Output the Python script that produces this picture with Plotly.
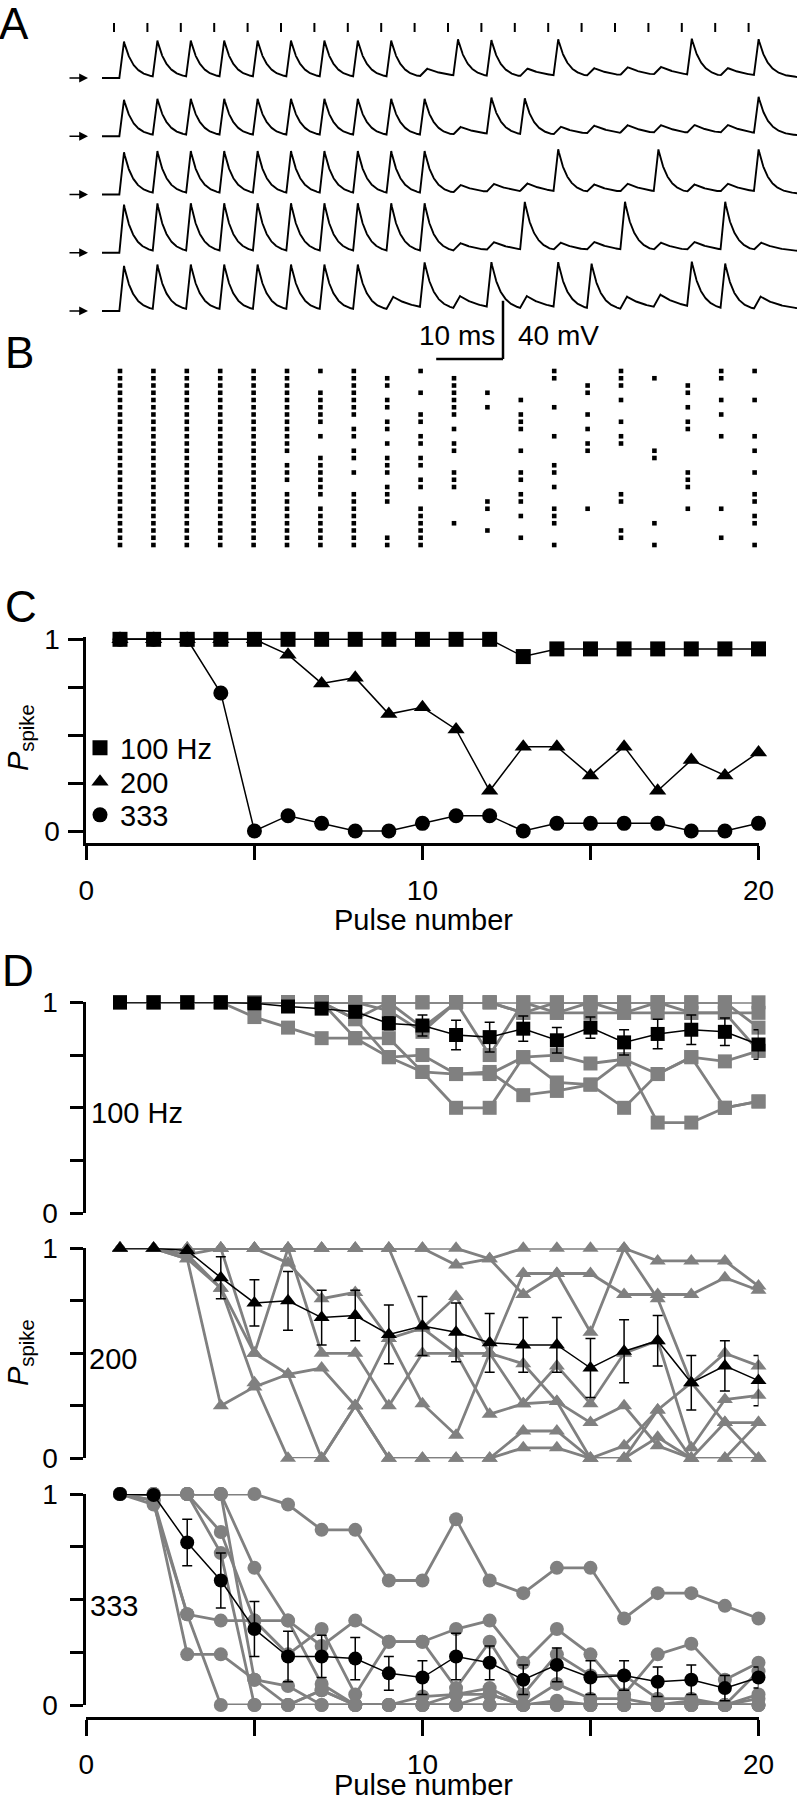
import numpy as np
import plotly.graph_objects as go

W, H = 797, 1800
def px(x): return x / W
def py(y): return 1 - y / H

FONT = "Liberation Sans, Arial, Helvetica, sans-serif"
GRAY = "rgb(128,128,128)"
FS = 29      # labels
FS_TICK = 28 # tick labels

# ---------------- DATA ----------------
pulses = list(range(1, 21))
PULSE_MS = 5.0  # 200 Hz example

# Panel A: 5 example sweeps, 1 = spike, 0 = failure (subthreshold EPSP)
trace_spikes = [
    [1,1,1,1,1,1,1,1,1,0,1,1,0,1,0,0,0,1,0,1],
    [1,1,1,1,1,1,1,1,1,1,0,1,1,0,0,0,0,0,0,1],
    [1,1,1,1,1,1,1,1,1,1,0,0,0,1,0,0,1,0,0,1],
    [1,1,1,1,1,1,1,1,1,1,0,0,1,0,0,1,0,0,1,0],
    [1,1,1,1,1,1,1,1,0,1,0,1,0,1,1,0,0,1,1,0],
]
spike_amp_mv = [25, 25, 29, 33, 31]
epsp_amp_mv = [6, 6, 6, 6, 9]

# Panel B: raster, trials (rows 0..24) with a spike for each pulse
raster_rows = [
    list(range(25)), list(range(25)), list(range(25)), list(range(25)), list(range(25)),
    [r for r in range(25) if r not in (12, 16)],
    [0,3,4,5,6,7,9,12,13,14,15,16,17,19,20,21,22,23,24],
    [0,1,2,3,4,5,6,8,9,11,12,14,17,18,19,20,21,22,23,24],
    [1,2,4,5,7,8,10,12,13,14,16,17,18,23,24],
    [0,3,6,7,9,10,12,13,15,16,19,20,21,22,23,24],
    [1,2,3,4,5,6,8,10,11,14,15,16,21],
    [3,5,18,19,22],
    [4,6,7,8,11,14,15,17,18,20,23],
    [0,1,5,9,13,14,16,19,20,21,24],
    [2,3,6,8,10,11,19],
    [0,1,2,4,7,9,10,17,18,22,23],
    [1,11,12,21,24],
    [2,3,5,7,8,14,15,16,19],
    [0,1,4,6,9,19,23],
    [0,4,9,11,14,17,18,20,21,24],
]

# Panel C: example cell
c_100 = [1,1,1,1,1,1,1,1,1,1,1,1,0.91,0.95,0.95,0.95,0.95,0.95,0.95,0.95]
c_200 = [1,1,1,1,1,0.92,0.77,0.80,0.61,0.645,0.53,0.21,0.44,0.44,0.29,0.44,0.21,0.37,0.29,0.41]
c_333 = [1,1,1,0.72,0,0.08,0.04,0,0,0.04,0.08,0.08,0,0.04,0.04,0.04,0.04,0,0,0.04]

# Panel D: individual cells (gray) and mean +/- SEM (black)
d100_cells = [
    [1]*20,
    [1,1,1,1,1,1,1,1,1,1,1,1,0.95,0.95,0.95,0.95,0.95,0.95,0.95,0.95],
    [1,1,1,1,1,1,1,1,0.96,0.86,1,1,0.95,1,1,1,1,1,1,0.88],
    [1,1,1,1,1,1,1,0.92,1,0.88,1,0.75,1,0.95,1,0.95,1,0.95,0.95,0.77],
    [1,1,1,1,0.93,0.88,0.83,0.83,0.74,0.75,0.66,0.66,0.74,0.75,0.71,0.73,0.66,0.74,0.72,0.77],
    [1,1,1,1,1,1,1,0.92,0.74,0.67,0.5,0.5,0.74,0.62,0.61,0.5,0.66,0.74,0.5,0.53],
    [1,1,1,1,1,1,1,0.83,0.83,0.67,0.66,0.67,0.56,0.58,0.61,0.73,0.43,0.43,0.5,0.53],
]
d100_mean = [1,1,1,1,0.995,0.98,0.97,0.955,0.9,0.89,0.845,0.835,0.875,0.82,0.88,0.81,0.85,0.87,0.86,0.80]
d100_sem = [0,0,0,0,0,0.01,0.01,0.02,0.03,0.05,0.07,0.07,0.06,0.06,0.05,0.06,0.07,0.07,0.065,0.07]

d200_cells = [
    [1,1,1,1,1,1,1,1,1,1,1,0.95,1,1,1,1,0.94,0.94,0.94,0.82],
    [1,1,1,1,1,1,1,1,1,1,0.92,0.95,0.78,0.88,0.88,0.78,0.78,0.78,0.86,0.8],
    [1,1,1,1,1,0.93,0.76,0.79,0.57,0.62,0.77,0.5,0.88,0.88,0.6,1,0.76,0.36,0.5,0.44],
    [1,1,0.97,0.81,0.5,1,0.5,0.5,0.25,0.5,0.5,0.21,0.26,0.44,0.26,0.5,0.56,0.05,0.28,0.3],
    [1,1,0.95,0.25,0.34,0.4,0.43,0.25,0.57,0.26,0.11,0.5,0.45,0.27,0,0,0.23,0.36,0.17,0.17],
    [1,1,0.95,0.81,0.36,0,0,0.25,0,0,0,0,0.13,0.13,0,0,0.1,0,0,0],
    [1,1,0.97,1,0.5,0.4,0,0.25,0,0,0,0,0.05,0.05,0,0.06,0.23,0,0.17,0],
    [1,1,1,1,1,1,1,1,1,0.62,0.5,0.5,0.26,0.27,0.17,0.25,0.06,0,0,0.17],
]
d200_mean = [1,1,0.99,0.86,0.74,0.75,0.67,0.68,0.59,0.63,0.6,0.55,0.54,0.54,0.43,0.51,0.56,0.36,0.44,0.37]
d200_sem = [0,0,0,0.1,0.11,0.14,0.13,0.12,0.14,0.14,0.14,0.14,0.13,0.13,0.14,0.15,0.12,0.13,0.12,0.12]

d333_cells = [
    [1,1,1,1,1,0.95,0.83,0.83,0.59,0.59,0.88,0.59,0.53,0.65,0.65,0.41,0.53,0.53,0.47,0.41],
    [1,1,1,1,0.65,0.4,0.28,0.4,0.3,0.3,0.36,0.4,0.2,0.36,0.24,0.05,0.24,0.29,0.12,0.2],
    [1,1,1,0.82,0.4,0.24,0.36,0.05,0.3,0.3,0.08,0.3,0.05,0.24,0.14,0.14,0.03,0.03,0,0.16],
    [1,0.97,0.43,0.4,0.4,0.4,0.1,0,0,0.04,0.05,0.08,0,0.1,0.03,0.03,0,0,0,0.05],
    [1,0.97,0.24,0.24,0.12,0.09,0,0,0,0,0,0.05,0,0,0,0,0,0,0,0],
    [1,1,1,0.72,0,0,0.07,0,0,0,0,0,0,0,0,0,0,0,0,0.03],
    [1,0.95,0.43,0,0,0,0,0,0,0,0,0,0,0,0,0,0,0,0,0],
    [1,1,1,1,0.12,0,0.07,0,0,0,0.05,0.05,0,0.02,0,0,0,0.02,0,0],
]
d333_mean = [1,0.995,0.77,0.59,0.36,0.23,0.23,0.22,0.15,0.13,0.23,0.2,0.12,0.19,0.13,0.14,0.11,0.12,0.08,0.13]
d333_sem = [0,0,0.11,0.13,0.13,0.12,0.1,0.1,0.08,0.08,0.11,0.08,0.07,0.08,0.08,0.07,0.07,0.07,0.06,0.05]

ytick_vals = [0, 0.25, 0.5, 0.75, 1]
ytick_text = ["0", "", "", "", "1"]
xtick_vals = [0, 5, 10, 15, 20]
xtick_text = ["0", "", "10", "", "20"]
legend_labels = ["100 Hz", "200", "333"]

# ---------------- FIGURE ----------------
fig = go.Figure()

# Panel A traces
t = np.arange(-1.8, 102.3, 0.05)
def waveform(pattern, a_spk, a_epsp):
    v = np.zeros_like(t)
    for k, s in enumerate(pattern):
        t0 = k * PULSE_MS
        if s:
            onset, peak, tau, amp = t0 + 0.8, t0 + 1.5, 1.4, a_spk
        else:
            onset, peak, tau, amp = t0 + 0.8, t0 + 1.8, 3.5, a_epsp
        rise = (t >= onset) & (t < peak)
        v[rise] += amp * (t[rise] - onset) / (peak - onset)
        dec = t >= peak
        v[dec] += amp * np.exp(-(t[dec] - peak) / tau)
    return v

for i, pat in enumerate(trace_spikes):
    v = waveform(pat, spike_amp_mv[i], epsp_amp_mv[i]) - 40 * i
    fig.add_trace(go.Scatter(x=t, y=v, mode="lines", line=dict(color="black", width=1.9),
                             xaxis="x", yaxis="y", showlegend=False, hoverinfo="skip"))

# Panel B raster
rx, ry = [], []
for k, rows in enumerate(raster_rows):
    for r in rows:
        rx.append(k * PULSE_MS + 0.9)
        ry.append(r)
fig.add_trace(go.Scatter(x=rx, y=ry, mode="markers", xaxis="x2", yaxis="y2",
                         marker=dict(symbol="square", size=4.6, color="black", line=dict(width=0)),
                         showlegend=False, hoverinfo="skip"))

# Panel C
symbols = ["square", "triangle-up", "circle"]
for vals, sym in zip([c_100, c_200, c_333], symbols):
    fig.add_trace(go.Scatter(x=pulses, y=vals, mode="lines+markers", xaxis="x3", yaxis="y3",
                             line=dict(color="black", width=1.5),
                             marker=dict(symbol=sym, size=15, color="black"),
                             cliponaxis=False, showlegend=False, hoverinfo="skip"))
leg_names = ["legend", "legend2", "legend3"]
for sym, name, lg in zip(symbols, legend_labels, leg_names):
    fig.add_trace(go.Scatter(x=[None], y=[None], mode="markers", xaxis="x3", yaxis="y3",
                             marker=dict(symbol=sym, size=15, color="black"), name=name,
                             legend=lg, showlegend=True))

# Panel D
for cells, mean, sem, sym, xa, ya in [
    (d100_cells, d100_mean, d100_sem, "square", "x4", "y4"),
    (d200_cells, d200_mean, d200_sem, "triangle-up", "x5", "y5"),
    (d333_cells, d333_mean, d333_sem, "circle", "x6", "y6"),
]:
    for vals in cells:
        fig.add_trace(go.Scatter(x=pulses, y=vals, mode="lines+markers", xaxis=xa, yaxis=ya,
                                 line=dict(color=GRAY, width=2.8),
                                 marker=dict(symbol=sym, size=14, color=GRAY),
                                 cliponaxis=False, showlegend=False, hoverinfo="skip"))
    fig.add_trace(go.Scatter(x=pulses, y=mean, mode="lines+markers", xaxis=xa, yaxis=ya,
                             line=dict(color="black", width=1.5),
                             marker=dict(symbol=sym, size=14, color="black"),
                             error_y=dict(type="data", array=sem, color="black", thickness=1.5, width=5),
                             cliponaxis=False, showlegend=False, hoverinfo="skip"))

# ---------------- LAYOUT ----------------
A_RANGE_X = [-114 / 6.68, (797 - 114) / 6.68]
A_PXMV = 1.456
hidden = dict(visible=False)

def axis_common(ticklen, standoff):
    return dict(showline=True, linecolor="black", linewidth=3, ticks="outside",
                tickcolor="black", tickwidth=3, ticklen=ticklen, showgrid=False, zeroline=False,
                automargin=False, ticklabelstandoff=standoff,
                tickfont=dict(family=FONT, size=FS_TICK, color="black"))

def legend_at(y):
    return dict(x=px(80), y=py(y), xanchor="left", yanchor="middle", bgcolor="rgba(0,0,0,0)",
                font=dict(family=FONT, size=FS, color="black"), itemwidth=30, borderwidth=0)

layout = dict(
    template="none",
    width=W, height=H, margin=dict(l=0, r=0, t=0, b=0, pad=0, autoexpand=False),
    paper_bgcolor="white", plot_bgcolor="rgba(0,0,0,0)",
    font=dict(family=FONT, size=FS, color="black"),
    xaxis=dict(domain=[0, 1], range=A_RANGE_X, anchor="y", **hidden),
    yaxis=dict(domain=[py(380), 1], range=[(78 - 380) / A_PXMV, 78 / A_PXMV], anchor="x", **hidden),
    xaxis2=dict(domain=[0, 1], range=A_RANGE_X, anchor="y2", **hidden),
    yaxis2=dict(domain=[py(555), py(360)], range=[(555 - 371) / 7.25, (360 - 371) / 7.25], anchor="x2", **hidden),
    xaxis3=dict(domain=[px(86.4), px(758.5)], range=[0, 20], anchor="y3",
                tickvals=xtick_vals, ticktext=xtick_text, **axis_common(14, 6)),
    yaxis3=dict(domain=[py(843), py(637.4)], range=[-0.0625, 1.01], anchor="x3",
                tickvals=ytick_vals, ticktext=ytick_text, **axis_common(15, 3)),
    xaxis4=dict(domain=[px(86.4), px(758.5)], range=[0, 20], anchor="y4", **hidden),
    yaxis4=dict(domain=[py(1213.3), py(1002.3)], range=[0, 1], anchor="x4",
                tickvals=ytick_vals, ticktext=ytick_text, **axis_common(13, 7)),
    xaxis5=dict(domain=[px(86.4), px(758.5)], range=[0, 20], anchor="y5", **hidden),
    yaxis5=dict(domain=[py(1458.3), py(1248.3)], range=[0, 1], anchor="x5",
                tickvals=ytick_vals, ticktext=ytick_text, **axis_common(13, 7)),
    xaxis6=dict(domain=[px(86.4), px(758.5)], range=[0, 20], anchor="free", position=py(1718),
                tickvals=xtick_vals, ticktext=xtick_text, **axis_common(16, 4)),
    yaxis6=dict(domain=[py(1705), py(1494)], range=[0, 1], anchor="x6",
                tickvals=ytick_vals, ticktext=ytick_text, **axis_common(13, 7)),
    legend=legend_at(748), legend2=legend_at(782), legend3=legend_at(815),
    showlegend=True,
)
fig.update_layout(**layout)

# stimulus ticks, scale bar (panel A coordinates)
shapes = []
for k in range(len(pulses)):
    tk = k * PULSE_MS
    shapes.append(dict(type="line", xref="x", yref="y", x0=tk, x1=tk, y0=31.6, y1=37.8,
                       line=dict(color="black", width=2)))
sb_x1 = (503 - 114) / 6.68
sb_y = (78 - 359) / A_PXMV
shapes.append(dict(type="line", xref="x", yref="y", x0=sb_x1 - 10, x1=sb_x1, y0=sb_y, y1=sb_y,
                   line=dict(color="black", width=2.5)))
shapes.append(dict(type="line", xref="x", yref="y", x0=sb_x1, x1=sb_x1, y0=sb_y, y1=sb_y + 40,
                   line=dict(color="black", width=2.5)))
fig.update_layout(shapes=shapes)

ann = []
# arrows at left of traces
for i in range(len(trace_spikes)):
    ann.append(dict(x=(88 - 114) / 6.68, y=-40 * i, ax=(68 - 114) / 6.68, ay=-40 * i,
                    xref="x", yref="y", axref="x", ayref="y", text="", showarrow=True,
                    arrowhead=2, arrowsize=1.1, arrowwidth=1.6, arrowcolor="black"))
lab_y = (78 - 335) / A_PXMV
ann.append(dict(x=(497 - 114) / 6.68, y=lab_y, xref="x", yref="y", text="10 ms", showarrow=False,
                xanchor="right", yanchor="middle", font=dict(family=FONT, size=28)))
ann.append(dict(x=(516 - 114) / 6.68, y=lab_y, xref="x", yref="y", text="40 mV", showarrow=False,
                xanchor="left", yanchor="middle", font=dict(family=FONT, size=28)))

def paper_text(x, y, text, size=FS, xanchor="left", angle=0):
    return dict(x=px(x), y=py(y), xref="paper", yref="paper", text=text, showarrow=False,
                xanchor=xanchor, yanchor="middle", textangle=angle, font=dict(family=FONT, size=size))

for letter, x, y in [("A", -3, 24), ("B", 3, 352), ("C", 3, 606), ("D", 0, 970)]:
    ann.append(paper_text(x, y, letter, size=44))
ann.append(paper_text(20, 738, "<i>P</i><sub>spike</sub>", size=29, xanchor="center", angle=-90))
ann.append(paper_text(20, 1353, "<i>P</i><sub>spike</sub>", size=29, xanchor="center", angle=-90))
ann.append(paper_text(423, 920, "Pulse number", xanchor="center"))
ann.append(paper_text(423, 1785, "Pulse number", xanchor="center"))
ann.append(paper_text(89, 1113, "100 Hz"))
ann.append(paper_text(87, 1359, "200"))
ann.append(paper_text(88, 1606, "333"))
fig.update_layout(annotations=ann)

fig.write_html("out.html", config={"displayModeBar": False},
               post_script="document.body.style.margin='0px';")
